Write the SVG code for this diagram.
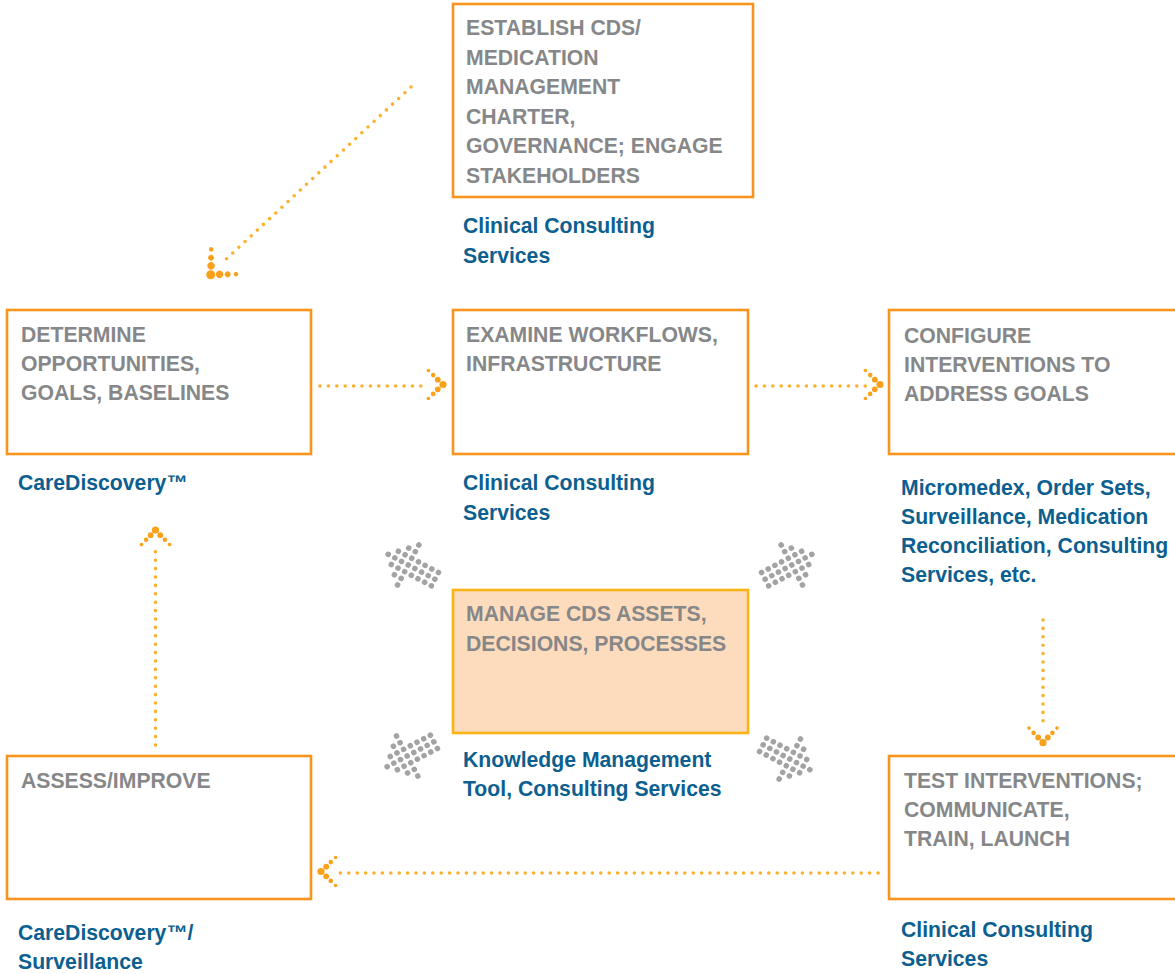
<svg xmlns="http://www.w3.org/2000/svg" xmlns:xlink="http://www.w3.org/1999/xlink" width="1175" height="974" viewBox="0 0 1175 974">
<style>
  .box { fill: #ffffff; stroke: #f7941d; stroke-width: 2.6; }
  .center { fill: #fddcbd; stroke: #fbb415; stroke-width: 2.6; }
  .t { font-family: "Liberation Sans", Arial, sans-serif; font-weight: bold; font-size: 21.2px; fill: #868789; }
  .l { font-family: "Liberation Sans", Arial, sans-serif; font-weight: bold; font-size: 21.2px; fill: #0c5f8f; }
  .dl { fill: none; stroke: #fbb12e; stroke-width: 3.6; stroke-dasharray: 0 8.4; stroke-linecap: round; }
  .cd { fill: #f9a11b; }
  .gd { fill: #a3a3a3; }
</style>
<defs>
  <g id="chev">
    <circle class="cd" cx="0" cy="0" r="3.6"/>
    <circle class="cd" cx="-5.2" cy="-4.8" r="2.9"/>
    <circle class="cd" cx="-5.2" cy="4.8" r="2.9"/>
    <circle class="cd" cx="-9.8" cy="-9.4" r="2.3"/>
    <circle class="cd" cx="-9.8" cy="9.4" r="2.3"/>
    <circle class="cd" cx="-14.6" cy="-14" r="1.8"/>
    <circle class="cd" cx="-14.6" cy="14" r="1.8"/>
  </g>
  <g id="garrow">
    <circle class="gd" cx="-24" cy="-7" r="2.6"/><circle class="gd" cx="-24" cy="0" r="2.6"/><circle class="gd" cx="-24" cy="7" r="2.6"/>
    <circle class="gd" cx="-17" cy="-7" r="2.6"/><circle class="gd" cx="-17" cy="0" r="2.6"/><circle class="gd" cx="-17" cy="7" r="2.6"/>
    <circle class="gd" cx="-10" cy="-7" r="2.6"/><circle class="gd" cx="-10" cy="0" r="2.6"/><circle class="gd" cx="-10" cy="7" r="2.6"/>
    <circle class="gd" cx="-3" cy="-7" r="2.6"/><circle class="gd" cx="-3" cy="0" r="2.6"/><circle class="gd" cx="-3" cy="7" r="2.6"/>
    <circle class="gd" cx="4" cy="-21" r="2.6"/><circle class="gd" cx="4" cy="-14" r="2.6"/><circle class="gd" cx="4" cy="-7" r="2.6"/><circle class="gd" cx="4" cy="0" r="2.6"/><circle class="gd" cx="4" cy="7" r="2.6"/><circle class="gd" cx="4" cy="14" r="2.6"/><circle class="gd" cx="4" cy="21" r="2.6"/>
    <circle class="gd" cx="11" cy="-14" r="2.6"/><circle class="gd" cx="11" cy="-7" r="2.6"/><circle class="gd" cx="11" cy="0" r="2.6"/><circle class="gd" cx="11" cy="7" r="2.6"/><circle class="gd" cx="11" cy="14" r="2.6"/>
    <circle class="gd" cx="18" cy="-7" r="2.6"/><circle class="gd" cx="18" cy="0" r="2.6"/><circle class="gd" cx="18" cy="7" r="2.6"/>
    <circle class="gd" cx="25" cy="0" r="2.6"/>
  </g>
</defs>
<rect width="1175" height="974" fill="#ffffff"/>

<g id="establish">
  <rect class="box" x="453" y="4" width="300" height="193"/>
  <text class="t" x="466" y="35">ESTABLISH CDS/</text>
  <text class="t" x="466" y="64.5">MEDICATION</text>
  <text class="t" x="466" y="94">MANAGEMENT</text>
  <text class="t" x="466" y="123.5">CHARTER,</text>
  <text class="t" x="466" y="153">GOVERNANCE; ENGAGE</text>
  <text class="t" x="466" y="182.5">STAKEHOLDERS</text>
  <text class="l" x="463" y="233">Clinical Consulting</text>
  <text class="l" x="463" y="263">Services</text>
</g>

<g id="determine">
  <rect class="box" x="7" y="310" width="304" height="144"/>
  <text class="t" x="21" y="342">DETERMINE</text>
  <text class="t" x="21" y="371">OPPORTUNITIES,</text>
  <text class="t" x="21" y="400">GOALS, BASELINES</text>
  <text class="l" x="18" y="490">CareDiscovery™</text>
</g>

<g id="examine">
  <rect class="box" x="453" y="310" width="295" height="144"/>
  <text class="t" x="466" y="342">EXAMINE WORKFLOWS,</text>
  <text class="t" x="466" y="371">INFRASTRUCTURE</text>
  <text class="l" x="463" y="490">Clinical Consulting</text>
  <text class="l" x="463" y="520">Services</text>
</g>

<g id="configure">
  <rect class="box" x="889" y="310" width="300" height="144"/>
  <text class="t" x="904" y="343">CONFIGURE</text>
  <text class="t" x="904" y="372">INTERVENTIONS TO</text>
  <text class="t" x="904" y="401">ADDRESS GOALS</text>
  <text class="l" x="901" y="495">Micromedex, Order Sets,</text>
  <text class="l" x="901" y="524">Surveillance, Medication</text>
  <text class="l" x="901" y="553">Reconciliation, Consulting</text>
  <text class="l" x="901" y="582">Services, etc.</text>
</g>

<g id="manage">
  <rect class="center" x="453" y="590" width="295" height="143"/>
  <text class="t" x="466" y="621">MANAGE CDS ASSETS,</text>
  <text class="t" x="466" y="651">DECISIONS, PROCESSES</text>
  <text class="l" x="463" y="767">Knowledge Management</text>
  <text class="l" x="463" y="796">Tool, Consulting Services</text>
</g>

<g id="assess">
  <rect class="box" x="7" y="756" width="304" height="143"/>
  <text class="t" x="21" y="788">ASSESS/IMPROVE</text>
  <text class="l" x="18" y="940">CareDiscovery™/</text>
  <text class="l" x="18" y="969">Surveillance</text>
</g>

<g id="test">
  <rect class="box" x="889" y="756" width="300" height="143"/>
  <text class="t" x="904" y="788">TEST INTERVENTIONS;</text>
  <text class="t" x="904" y="817">COMMUNICATE,</text>
  <text class="t" x="904" y="846">TRAIN, LAUNCH</text>
  <text class="l" x="901" y="937">Clinical Consulting</text>
  <text class="l" x="901" y="966">Services</text>
</g>

<g id="connectors">
  <line class="dl" x1="411" y1="87" x2="222" y2="263"/>
  <use xlink:href="#chev" transform="translate(210.7,274.7) rotate(135) scale(1.25)"/>

  <line class="dl" x1="320" y1="386" x2="428" y2="386"/>
  <use xlink:href="#chev" transform="translate(443,384.5)"/>

  <line class="dl" x1="756" y1="386" x2="866" y2="386"/>
  <use xlink:href="#chev" transform="translate(880,384.5)"/>

  <line class="dl" x1="1043" y1="620" x2="1043" y2="729"/>
  <use xlink:href="#chev" transform="translate(1043,742.7) rotate(90)"/>

  <line class="dl" x1="878" y1="873" x2="338" y2="873"/>
  <use xlink:href="#chev" transform="translate(321,871.5) rotate(180)"/>

  <line class="dl" x1="155.5" y1="745" x2="155.5" y2="547"/>
  <use xlink:href="#chev" transform="translate(155.5,530) rotate(-90)"/>

  <use xlink:href="#garrow" transform="translate(412,567) rotate(-152) scale(1.08)"/>
  <use xlink:href="#garrow" transform="translate(788,567) rotate(-28) scale(1.08)"/>
  <use xlink:href="#garrow" transform="translate(411,754) rotate(152) scale(1.08)"/>
  <use xlink:href="#garrow" transform="translate(786,757) rotate(28) scale(1.08)"/>
</g>
</svg>
